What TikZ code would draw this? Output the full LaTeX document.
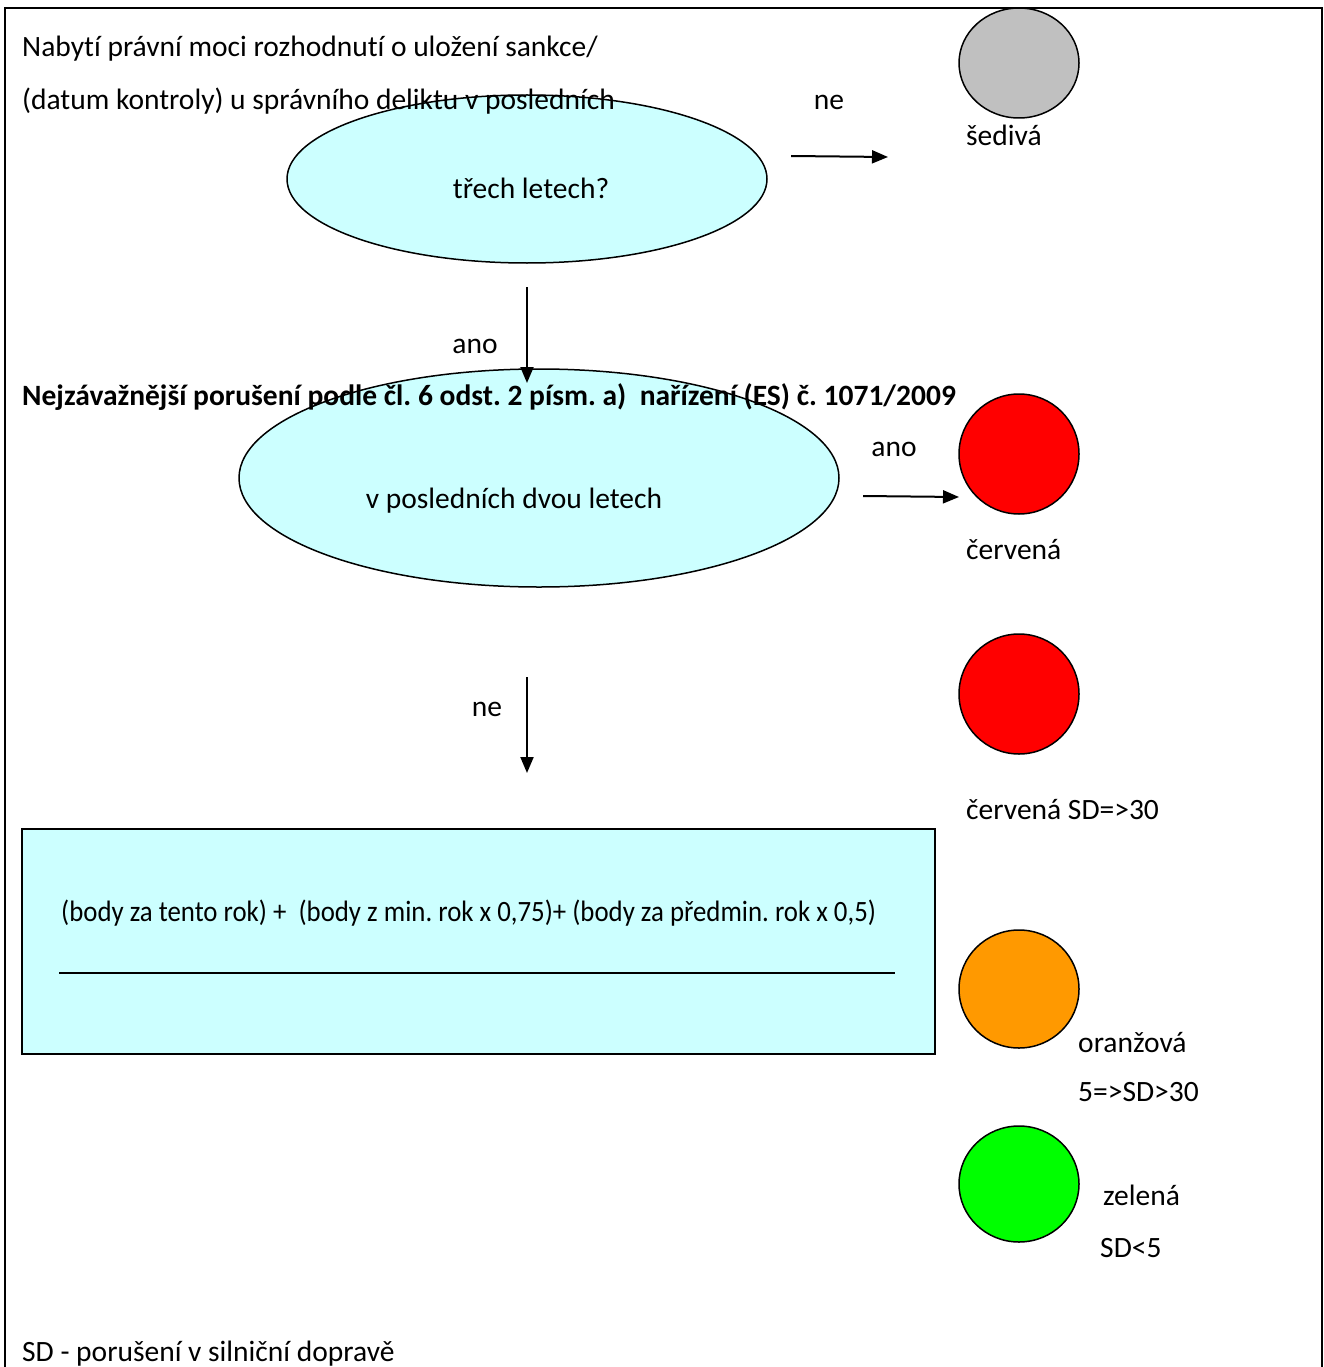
\documentclass[tikz,border=0pt]{standalone}
\usepackage{fontspec}
\setmainfont{Carlito}[Ligatures=NoCommon]
\usetikzlibrary{arrows.meta,shapes.geometric}
\definecolor{lcyan}{HTML}{CCFFFF}
\definecolor{sgray}{HTML}{C0C0C0}
\definecolor{sorange}{HTML}{FF9900}
\definecolor{sgreen}{HTML}{00FF00}
\definecolor{sred}{HTML}{FF0000}
\begin{document}
\frenchspacing
\begin{tikzpicture}[x=1pt,y=-1pt,
  txt/.style={anchor=base west, inner sep=0pt, font=\fontsize{29.5}{34}\selectfont},
  ctxt/.style={anchor=base, inner sep=0pt, font=\fontsize{29.5}{34}\selectfont},
  dec/.style={ellipse, draw, line width=1.5pt, fill=lcyan, inner sep=0pt},
  lamp/.style={ellipse, draw, line width=1.5pt, minimum width=120pt, minimum height=118pt, inner sep=0pt},
  arr/.style={line width=2pt, -{Triangle[length=16pt,width=13pt]}},
]
\useasboundingbox (0,0) rectangle (1324,1367);
\fill[white] (0,0) rectangle (1324,1367);
\draw[line width=2pt] (5,1367) -- (5,8) -- (1322,8) -- (1322,1367);

% first decision
\node[dec, minimum width=480pt, minimum height=168pt] (e1) at (527,179) {};
\node[txt] (q1a) at (22,57) {Nabytí právní moci rozhodnutí o uložení sankce/};
\node[txt] (q1b) at (22,110) {(datum kontroly) u správního deliktu v posledních};
\node[ctxt] (q1c) at (531,198) {třech letech?};

% grey lamp
\node[lamp, fill=sgray, minimum height=110pt] (grey) at (1019,63) {};
\node[txt] (greyl) at (966,146) {šedivá};
\coordinate (a1s) at (791,156);
\coordinate (a1e) at (888,157);
\draw[arr] (a1s) -- (a1e);
\node[ctxt] (ne1) at (829,110) {ne};

% down arrow ano
\coordinate (a2s) at (527,287);
\coordinate (a2e) at (527,383);

% second decision
\node[dec, minimum width=600pt, minimum height=218pt] (e2) at (539,478) {};
\draw[arr] (a2s) -- (a2e);
\node[ctxt] (ano1) at (475,353) {ano};
\node[txt, font=\fontsize{29.5}{34}\selectfont\bfseries] (q2a) at (22,405) {Nejzávažnější porušení podle čl. 6 odst. 2 písm. a)\ \ nařízení (ES) č. 1071/2009};
\node[ctxt] (q2b) at (514,508) {v posledních dvou letech};

% red lamp 1
\node[lamp, fill=sred, minimum height=120pt] (red1) at (1019,454) {};
\node[txt] (red1l) at (966,559) {červená};
\coordinate (a3s) at (863,496);
\coordinate (a3e) at (959,497);
\draw[arr] (a3s) -- (a3e);
\node[ctxt] (ano2) at (894,456) {ano};

% red lamp 2
\node[lamp, fill=sred, minimum height=120pt] (red2) at (1019,694) {};
\node[txt] (red2l) at (966,819) {červená SD=>30};

% down arrow ne
\coordinate (a4s) at (527,677);
\coordinate (a4e) at (527,773);
\draw[arr] (a4s) -- (a4e);
\node[ctxt] (ne2) at (487,716) {ne};

% formula box
\node[draw, line width=1.5pt, fill=lcyan, minimum width=913pt, minimum height=225pt, inner sep=0pt] (box) at (478.5,941.5) {};
\node[txt] (form) at (61,921) {\scalebox{0.909}[1]{(body za tento rok) +\ \ (body z min. rok x 0,75)+ (body za předmin. rok x 0,5)}};
\coordinate (u1) at (59,973);
\coordinate (u2) at (895,973);
\draw[line width=1.5pt] (u1) -- (u2);

% orange lamp
\node[lamp, fill=sorange, minimum height=118pt] (orange) at (1019,989) {};
\node[txt] (orl) at (1078,1052) {oranžová};
\node[txt] (orv) at (1078,1101) {5=>SD>30};

% green lamp
\node[lamp, fill=sgreen, minimum height=116pt] (green) at (1019,1184) {};
\node[txt] (grl) at (1103,1205) {zelená};
\node[txt] (grv) at (1100,1257) {SD<5};

% footnote
\node[txt] (foot) at (22,1361) {SD - porušení v silniční dopravě};
\end{tikzpicture}
\end{document}
